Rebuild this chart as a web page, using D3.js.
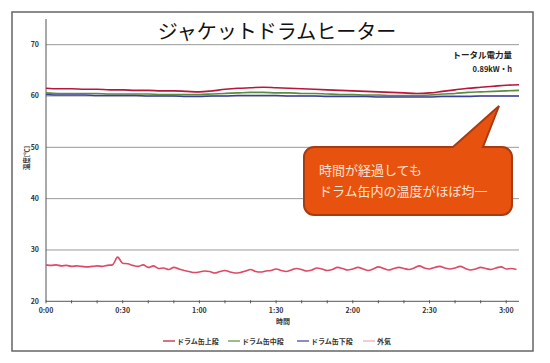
<!DOCTYPE html>
<html>
<head>
<meta charset="utf-8">
<script src="https://cdn.jsdelivr.net/npm/d3@7"></script>
<style>
  body { margin: 0; background: #fff; }
  text { font-family: "Noto Sans CJK JP", "Noto Sans", sans-serif; }
</style>
</head>
<body>
<div id="chart"></div>
<script>
// data (time in minutes)
const drumTime = [0,5,10,15,20,25,30,35,40,45,50,55,60,65,70,75,80,85,90,95,100,105,110,115,120,125,130,135,140,145,150,155,160,165,170,175,180,185];
const drumUpper = [61.5,61.4,61.4,61.3,61.3,61.2,61.2,61.1,61.1,61.0,61.0,60.9,60.8,61.0,61.3,61.5,61.6,61.7,61.6,61.5,61.4,61.3,61.2,61.1,61.0,60.9,60.8,60.7,60.6,60.5,60.6,60.9,61.2,61.5,61.7,61.9,62.1,62.2];
const drumMiddle = [60.6,60.5,60.5,60.5,60.5,60.4,60.4,60.4,60.4,60.3,60.3,60.3,60.3,60.4,60.5,60.6,60.7,60.7,60.6,60.6,60.5,60.5,60.4,60.3,60.3,60.2,60.2,60.1,60.1,60.1,60.2,60.4,60.5,60.7,60.8,60.9,61.0,61.1];
const drumLower = [60.3,60.2,60.2,60.2,60.1,60.1,60.1,60.1,60.0,60.0,60.0,59.9,59.9,60.0,60.0,60.1,60.1,60.1,60.1,60.0,60.0,60.0,59.9,59.9,59.9,59.9,59.8,59.8,59.8,59.8,59.8,59.9,59.9,59.9,60.0,60.0,60.0,60.0];
const airTime = [0,2,4,6,8,10,12,14,16,18,20,22,24,26,28,30,32,34,36,38,40,42,44,46,48,50,52,54,56,58,60,62,64,66,68,70,72,74,76,78,80,82,84,86,88,90,92,94,96,98,100,102,104,106,108,110,112,114,116,118,120,122,124,126,128,130,132,134,136,138,140,142,144,146,148,150,152,154,156,158,160,162,164,166,168,170,172,174,176,178,180,182,184];
const airTemp = [27.1,27.0,27.1,26.9,27.0,26.8,26.9,26.8,26.7,26.8,26.9,26.8,27.0,27.1,28.6,27.4,27.3,27.0,26.8,27.1,26.6,26.9,26.4,26.5,26.2,26.6,26.3,26.0,25.8,25.6,25.7,25.9,25.8,25.5,25.8,26.0,25.7,25.5,25.6,25.9,26.2,25.8,25.7,25.9,26.0,26.3,26.0,25.8,26.1,26.4,26.2,25.9,26.1,26.5,26.3,26.0,26.2,26.6,26.4,26.1,26.3,26.6,26.3,26.0,26.3,26.7,26.4,26.1,26.4,26.6,26.4,26.2,26.5,26.9,26.5,26.3,26.6,26.8,26.5,26.3,26.5,26.8,26.4,26.1,26.3,26.6,26.4,26.2,26.5,26.7,26.3,26.4,26.2];

const seriesNames = ["ドラム缶上段","ドラム缶中段","ドラム缶下段","外気"];
const seriesColors = ["#b8163c","#5b8d3e","#3c409c","#dc4a66"];
const yTicks = [20,30,40,50,60,70];
const xTicks = [0,30,60,90,120,150,180];
const xTickLabels = ["0:00","0:30","1:00","1:30","2:00","2:30","3:00"];

const width = 550, height = 363;
const svg = d3.select("#chart").append("svg").attr("width", width).attr("height", height);

// outer frame
svg.append("rect").attr("x",12).attr("y",12).attr("width",521).attr("height",339)
  .attr("fill","#fff").attr("stroke","#666").attr("stroke-width",1.5);

const x = d3.scaleLinear().domain([0,185]).range([46,519]);
const y = d3.scaleLinear().domain([20,75]).range([301.3,19]);

// gridlines
svg.append("g").selectAll("line").data(yTicks.slice(1)).join("line")
  .attr("x1",46).attr("x2",519).attr("y1",d=>y(d)).attr("y2",d=>y(d))
  .attr("stroke","#999").attr("stroke-width",1);

// y axis
svg.append("line").attr("x1",46).attr("x2",46).attr("y1",y(75)).attr("y2",y(20)).attr("stroke","#555");
svg.append("g").selectAll("text").data(yTicks).join("text")
  .attr("x",39).attr("y",d=>y(d)+2.5).attr("text-anchor","end")
  .attr("font-size",7).attr("font-weight",700).attr("fill","#333").text(d=>d);
svg.append("text").attr("transform","translate(29,158) rotate(-90)").attr("text-anchor","middle")
  .attr("font-size",6.5).attr("font-weight",700).attr("fill","#333").text("温度[℃]");

// x axis
svg.append("line").attr("x1",46).attr("x2",519).attr("y1",y(20)).attr("y2",y(20)).attr("stroke","#555");
svg.append("g").selectAll("line").data(d3.range(0,190,10)).join("line")
  .attr("x1",d=>x(d)).attr("x2",d=>x(d)).attr("y1",y(20)-1).attr("y2",y(20)+2).attr("stroke","#555");
svg.append("g").selectAll("text").data(xTicks).join("text")
  .attr("x",d=>x(d)).attr("y",313).attr("text-anchor","middle")
  .attr("font-size",7).attr("font-weight",700).attr("fill","#333").text((d,i)=>xTickLabels[i]);
svg.append("text").attr("x",283).attr("y",324).attr("text-anchor","middle")
  .attr("font-size",7).attr("font-weight",700).attr("fill","#333").text("時間");

// lines
const line = d3.line().x(d=>x(d[0])).y(d=>y(d[1])).curve(d3.curveMonotoneX);
const series = [
  {t: drumTime, v: drumUpper},
  {t: drumTime, v: drumMiddle},
  {t: drumTime, v: drumLower},
  {t: airTime, v: airTemp}
];
series.forEach((s,i)=>{
  svg.append("path").datum(s.t.map((t,j)=>[t,s.v[j]]))
    .attr("d",line).attr("fill","none").attr("stroke",seriesColors[i])
    .attr("stroke-width",1.6).attr("stroke-linejoin","round");
});

// title
svg.append("text").attr("x",277).attr("y",39).attr("text-anchor","middle")
  .attr("font-size",20).attr("fill","#111").text("ジャケットドラムヒーター");

// total power
svg.append("text").attr("x",512).attr("y",58).attr("text-anchor","end")
  .attr("font-size",8.5).attr("font-weight",700).attr("fill","#222").text("トータル電力量");
svg.append("text").attr("x",512).attr("y",72).attr("text-anchor","end")
  .attr("font-size",7.5).attr("font-weight",700).attr("fill","#222").text("0.89kW・h");

// callout
const bx0 = 304, bx1 = 512, by0 = 147, by1 = 215, r = 10;
const p = d3.path();
p.moveTo(bx0 + r, by0);
p.lineTo(453, by0);
p.lineTo(499, 106);
p.lineTo(483, by0);
p.lineTo(bx1 - r, by0);
p.arcTo(bx1, by0, bx1, by0 + r, r);
p.lineTo(bx1, by1 - r);
p.arcTo(bx1, by1, bx1 - r, by1, r);
p.lineTo(bx0 + r, by1);
p.arcTo(bx0, by1, bx0, by1 - r, r);
p.lineTo(bx0, by0 + r);
p.arcTo(bx0, by0, bx0 + r, by0, r);
p.closePath();
svg.append("path").attr("d",p.toString()).attr("fill","#e8520f").attr("stroke","#a83b12").attr("stroke-width",2);
svg.append("text").attr("x",319).attr("y",175).attr("font-size",13).attr("fill","#fde3d2").text("時間が経過しても");
svg.append("text").attr("x",319).attr("y",196).attr("font-size",13).attr("fill","#fde3d2").text("ドラム缶内の温度がほぼ均一");

// legend
const legendX = [163,228,297,363];
const lg = svg.append("g").selectAll("g").data(seriesNames).join("g")
  .attr("transform",(d,i)=>`translate(${legendX[i]},341)`);
lg.append("line").attr("x1",0).attr("x2",12).attr("y1",0).attr("y2",0)
  .attr("stroke",(d,i)=>i===3?"#f0a4b4":seriesColors[i]).attr("stroke-width",1.2);
lg.append("text").attr("x",14).attr("y",2.5).attr("font-size",7).attr("font-weight",700)
  .attr("fill","#333").text(d=>d);
</script>
</body>
</html>
